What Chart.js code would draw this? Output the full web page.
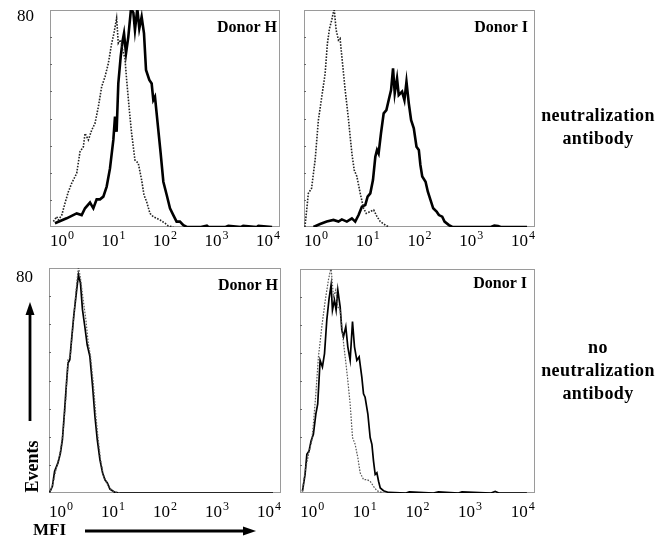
<!DOCTYPE html>
<html>
<head>
<meta charset="utf-8">
<script src="https://cdn.jsdelivr.net/npm/chart.js@4.4.1/dist/chart.umd.min.js"></script>
<style>
  body { margin: 0; background: #fff; width: 670px; height: 547px; position: relative; overflow: hidden; font-family: "Liberation Serif", serif; }
  .panel { position: absolute; }
  .side { position: absolute; font-weight: bold; font-size: 18px; letter-spacing: 0.4px; text-align: center; width: 130px; left: 533px; line-height: 23px; color: #000; }
  #events { position: absolute; left: 5px; top: 456px; width: 54px; text-align: center; font-weight: bold; font-size: 18px; transform: rotate(-90deg); transform-origin: 50% 50%; }
  #mfi { position: absolute; left: 33px; top: 520px; font-weight: bold; font-size: 17px; }
  svg { position: absolute; left: 0; top: 0; pointer-events: none; }
</style>
</head>
<body>
<div class="panel" style="left:0;top:0"><canvas id="c1" width="290" height="260"></canvas></div>
<div class="panel" style="left:290px;top:0"><canvas id="c2" width="260" height="260"></canvas></div>
<div class="panel" style="left:0;top:260px"><canvas id="c3" width="290" height="287"></canvas></div>
<div class="panel" style="left:290px;top:260px"><canvas id="c4" width="260" height="287"></canvas></div>

<div class="side" style="top:104px">neutralization<br>antibody</div>
<div class="side" style="top:336px">no<br>neutralization<br>antibody</div>
<div id="events">Events</div>
<div id="mfi">MFI</div>
<svg width="670" height="547">
  <line x1="30" y1="421" x2="30" y2="312" stroke="#000" stroke-width="2.8"/>
  <polygon points="30,302 25.5,315 34.5,315" fill="#000"/>
  <line x1="85" y1="531" x2="246" y2="531" stroke="#000" stroke-width="2.8"/>
  <polygon points="256,531 243,526.5 243,535.5" fill="#000"/>
</svg>

<script>
// axis
const decades = [1, 10, 100, 1000, 10000];
const decadeExp = ['0', '1', '2', '3', '4'];
const yMax = 80;

// Donor H, with neutralization antibody
const mfiHnSolid = [0.73, 1.23, 1.93, 2.41, 2.80, 3.50, 4.06, 4.71, 5.47, 6.35, 7.37, 8.55, 9.93, 10.7, 11.5, 12.4, 13.8, 15.1, 16.0, 17.5, 19.4, 21.9, 24.3, 26.1, 29.0, 31.7, 35.2, 39.1, 42.8, 49.6, 55.1, 59.3, 63.9, 74.2, 82.4, 92.9, 108, 125, 145, 168, 195, 227, 264, 500, 650, 700, 1500, 1700, 3000, 3300, 6000, 6500, 12000];
const evHnSolid  = [1.4, 3.2, 5.0, 4.4, 6.9, 9.0, 6.9, 10.2, 10.2, 11.2, 14.9, 21.6, 32.1, 40.7, 35.1, 52.9, 62.8, 68.9, 71.4, 64.0, 70.1, 80.5, 79.0, 72.6, 80.5, 73.2, 77.5, 71.4, 57.9, 54.2, 52.9, 46.8, 48.0, 35.7, 27.1, 16.7, 11.8, 6.9, 4.4, 2.0, 2.0, 0.7, 0, 0, 0.5, 0, 0, 0.4, 0, 0.4, 0, 0.4, 0];
const mfiHnDot = [0.68, 0.79, 0.85, 0.99, 1.14, 1.33, 1.54, 1.93, 2.24, 2.60, 2.80, 3.25, 3.77, 4.37, 5.08, 5.89, 6.84, 7.94, 9.21, 10.2, 11.5, 12.4, 13.8, 15.1, 16.7, 18.0, 20.3, 22.5, 26.1, 30.3, 35.2, 39.1, 44.0, 51.1, 59.3, 68.9, 80.0, 100, 116, 145];
const evHnDot  = [2.0, 3.8, 2.6, 4.4, 8.7, 13.0, 16.1, 19.8, 27.8, 29.6, 34.5, 32.1, 35.7, 38.2, 44.3, 51.7, 55.4, 60.3, 67.7, 71.4, 77.0, 67.7, 69.0, 65.2, 62.2, 54.2, 43.1, 34.5, 24.7, 23.5, 17.3, 11.8, 9.3, 5.0, 3.8, 3.2, 2.6, 1.4, 0.4, 0];

// Donor I, with neutralization antibody
const mfiInSolid = [0.89, 1.20, 1.61, 2.17, 2.71, 3.15, 3.94, 4.93, 5.72, 6.64, 7.70, 8.94, 9.93, 11.2, 12.6, 14.0, 15.1, 16.2, 18.0, 20.3, 22.9, 25.4, 28.2, 30.8, 33.2, 36.8, 39.7, 46.1, 51.1, 56.0, 62.1, 68.9, 77.6, 87.5, 97.1, 104, 113, 131, 145, 163, 184, 214, 237, 275, 305, 371, 431, 1200, 2400, 2800, 3300, 3700, 12000];
const evInSolid  = [0, 1.1, 2.0, 2.6, 2.0, 2.8, 2.0, 3.2, 2.0, 4.4, 7.5, 8.1, 11.2, 12.4, 17.3, 25.9, 28.4, 27.1, 34.5, 41.9, 43.1, 46.8, 50.5, 58.5, 49.3, 54.8, 48.6, 49.9, 46.8, 53.6, 45.6, 39.4, 36.4, 29.6, 28.4, 22.9, 18.6, 16.7, 13.0, 10.0, 6.9, 5.7, 4.4, 3.8, 2.0, 0.7, 0, 0, 0, 0.5, 0.4, 0, 0];
const mfiInDot = [0.61, 0.71, 0.82, 0.96, 1.11, 1.29, 1.50, 1.66, 1.82, 2.01, 2.24, 2.45, 2.71, 2.92, 3.15, 3.66, 4.25, 4.93, 5.47, 6.16, 7.15, 8.30, 9.35, 11.2, 13.0, 15.1, 17.5, 20.3, 25.4];
const evInDot  = [0, 12.4, 14.3, 24.7, 39.4, 48.0, 56.6, 67.7, 73.2, 76.3, 80.5, 72.6, 68.9, 69.5, 62.8, 50.5, 39.4, 27.1, 21.0, 18.6, 12.4, 6.9, 5.0, 5.7, 6.3, 3.8, 2.0, 1.1, 0];

// Donor H, no neutralization antibody
const mfiHoSolid = [0.60, 0.68, 0.75, 0.87, 0.97, 1.06, 1.17, 1.27, 1.36, 1.47, 1.58, 1.75, 1.98, 2.16, 2.36, 2.58, 2.86, 3.18, 3.58, 4.04, 4.48, 4.97, 5.60, 6.30, 6.99, 7.76, 8.73, 10.9, 13.6, 12000];
const evHoSolid  = [0.2, 2.4, 7.7, 10.7, 14.2, 19.0, 29.6, 39.1, 46.2, 47.4, 53.9, 62.8, 71.7, 77.6, 74.6, 65.2, 59.2, 52.7, 48.6, 37.9, 27.3, 19.0, 11.8, 7.1, 4.7, 3.6, 1.4, 0.2, 0, 0];
const mfiHoDot = [0.62, 0.70, 0.81, 0.94, 1.09, 1.23, 1.36, 1.51, 1.71, 1.92, 2.16, 2.36, 2.66, 3.00, 3.33, 3.69, 4.16, 4.68, 5.19, 5.76, 6.49, 7.31, 8.48, 10.1, 13.6];
const evHoDot  = [0.6, 3.6, 8.9, 13.6, 21.3, 33.2, 47.4, 48.6, 60.4, 71.1, 80.5, 76.4, 68.7, 61.6, 53.3, 48.6, 39.1, 27.3, 19.0, 11.8, 6.5, 4.1, 1.8, 0.6, 0];

// Donor I, no neutralization antibody
const mfiIoSolid = [0.65, 0.73, 0.79, 0.87, 0.95, 1.05, 1.17, 1.27, 1.41, 1.56, 1.71, 1.89, 2.09, 2.28, 2.42, 2.64, 2.84, 3.06, 3.39, 3.65, 3.92, 4.34, 4.74, 5.25, 5.82, 6.35, 7.03, 7.78, 8.75, 9.42, 10.1, 11.4, 12.6, 13.6, 14.6, 15.7, 16.9, 18.2, 19.6, 22.6, 28.2, 60, 70, 200, 250, 600, 700, 2500, 3000, 3500, 12000];
const evIoSolid  = [0.6, 6.6, 13.8, 15.0, 18.6, 21.0, 28.2, 31.8, 47.4, 45.0, 49.8, 61.8, 69.5, 74.3, 65.3, 68.9, 65.3, 72.5, 66.5, 58.2, 55.8, 59.4, 52.2, 47.4, 61.2, 52.2, 47.4, 48.6, 41.4, 35.4, 34.2, 28.2, 19.8, 17.4, 11.4, 6.6, 7.2, 4.2, 1.8, 0.8, 0.2, 0, 0.4, 0, 0.4, 0, 0.4, 0, 0.6, 0, 0];
const mfiIoDot = [0.65, 0.73, 0.85, 0.98, 1.05, 1.17, 1.31, 1.52, 1.75, 2.03, 2.28, 2.53, 2.80, 3.06, 3.39, 3.75, 4.22, 4.74, 5.25, 5.82, 6.53, 7.35, 8.14, 9.42, 10.9, 12.6, 14.6, 16.9, 21.0];
const evIoDot  = [0.6, 7.8, 13.8, 18.6, 24.6, 35.4, 48.6, 59.4, 68.3, 76.1, 80.5, 70.1, 72.5, 66.5, 65.3, 57.0, 48.6, 40.2, 31.8, 19.8, 17.4, 12.6, 7.2, 4.8, 4.8, 4.2, 2.4, 0.8, 0.2];

const serif = '"Liberation Serif", "Times New Roman", serif';

function pts(xs, ys) {
  return xs.map((x, i) => ({ x: x, y: ys[i] }));
}

// frame, tick labels and donor name for each histogram
const facsFrame = {
  id: 'facsFrame',
  beforeDatasetsDraw(chart, args, opts) {
    const { ctx, chartArea: a, scales: { y } } = chart;
    ctx.save();
    ctx.strokeStyle = '#9a9a9a';
    ctx.lineWidth = 1;
    ctx.strokeRect(Math.round(a.left) + 0.5, Math.round(a.top) + 0.5, Math.round(a.width) - 1, Math.round(a.height) - 1);
    // little y ticks on the left axis
    ctx.strokeStyle = '#666';
    for (let v = 10; v < yMax; v += 10) {
      const py = Math.round(y.getPixelForValue(v)) + 0.5;
      ctx.beginPath();
      ctx.moveTo(a.left, py);
      ctx.lineTo(a.left + 2, py);
      ctx.stroke();
    }
    ctx.restore();
  },
  afterDraw(chart, args, opts) {
    const { ctx, chartArea: a, scales: { x, y } } = chart;
    ctx.save();
    ctx.fillStyle = '#000';
    ctx.textBaseline = 'alphabetic';
    decades.forEach((d, i) => {
      const px = x.getPixelForValue(d);
      ctx.font = '17px ' + serif;
      const bw = ctx.measureText('10').width;
      ctx.font = '12px ' + serif;
      const ew = ctx.measureText(decadeExp[i]).width;
      const x0 = px - (bw + ew + 1) / 2;
      ctx.font = '17px ' + serif;
      ctx.textAlign = 'left';
      ctx.fillText('10', x0, a.bottom + opts.tickBase);
      ctx.font = '12px ' + serif;
      ctx.fillText(decadeExp[i], x0 + bw + 1, a.bottom + opts.tickBase - 7);
    });
    if (opts.showMax) {
      ctx.font = '17px ' + serif;
      ctx.textAlign = 'right';
      ctx.textBaseline = 'middle';
      ctx.fillText(String(yMax), a.left - 16, y.getPixelForValue(yMax) + opts.maxDy);
    }
    ctx.font = 'bold 16px ' + serif;
    ctx.textAlign = 'right';
    ctx.textBaseline = 'alphabetic';
    ctx.fillText(opts.donor, a.right - opts.donorInset, a.top + opts.donorBase);
    ctx.restore();
  }
};

function makeHistogram(id, solid, dotted, pad, frame, solidWidth, dotStyle) {
  return new Chart(document.getElementById(id), {
    type: 'line',
    data: {
      datasets: [
        { data: dotted, borderColor: dotStyle.color, borderWidth: dotStyle.width, borderDash: [1.6, 1.4], pointRadius: 0, tension: 0, fill: false },
        { data: solid, borderColor: '#000', borderWidth: solidWidth, pointRadius: 0, tension: 0, fill: false }
      ]
    },
    options: {
      responsive: false,
      animation: false,
      devicePixelRatio: 1,
      layout: { padding: pad },
      plugins: { legend: { display: false }, tooltip: { enabled: false }, facsFrame: frame },
      scales: {
        x: { type: 'logarithmic', min: 0.585, max: 17100, display: false },
        y: { type: 'linear', min: 0, max: yMax, display: false }
      }
    },
    plugins: [facsFrame]
  });
}

const dotTop = { color: '#222', width: 1.6 };
const dotBottom = { color: '#555', width: 1.2 };

makeHistogram('c1', pts(mfiHnSolid, evHnSolid), pts(mfiHnDot, evHnDot),
  { left: 50, right: 10, top: 10, bottom: 33 },
  { donor: 'Donor H', donorInset: 3, donorBase: 22, tickBase: 19, showMax: true, maxDy: 7 }, 2.6, dotTop);
makeHistogram('c2', pts(mfiInSolid, evInSolid), pts(mfiInDot, evInDot),
  { left: 14, right: 15, top: 10, bottom: 33 },
  { donor: 'Donor I', donorInset: 7, donorBase: 22, tickBase: 19, showMax: false, maxDy: 0 }, 2.6, dotTop);
makeHistogram('c3', pts(mfiHoSolid, evHoSolid), pts(mfiHoDot, evHoDot),
  { left: 49, right: 9, top: 8, bottom: 54 },
  { donor: 'Donor H', donorInset: 3, donorBase: 22, tickBase: 24, showMax: true, maxDy: 10 }, 1.7, dotBottom);
makeHistogram('c4', pts(mfiIoSolid, evIoSolid), pts(mfiIoDot, evIoDot),
  { left: 10, right: 15, top: 9, bottom: 54 },
  { donor: 'Donor I', donorInset: 8, donorBase: 19, tickBase: 24, showMax: false, maxDy: 0 }, 1.7, dotBottom);
</script>
</body>
</html>
